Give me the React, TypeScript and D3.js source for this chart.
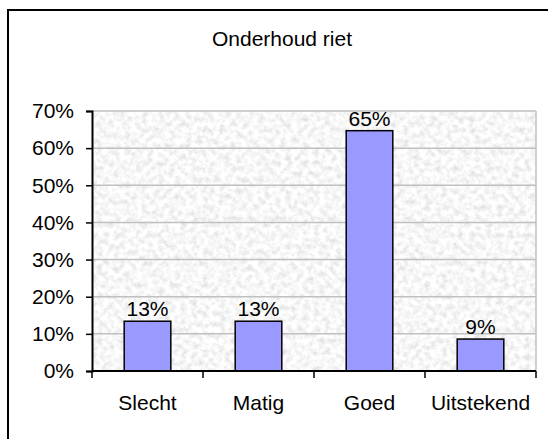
// App.tsx
// bar chart "Onderhoud riet", drawn with d3 into an svg ref

import React, { useEffect, useRef } from 'react'
import * as d3 from 'd3'

const title = 'Onderhoud riet'
const categories = ['Slecht', 'Matig', 'Goed', 'Uitstekend']
const values = [0.134, 0.134, 0.647, 0.086]
const yTicks = [0, 0.1, 0.2, 0.3, 0.4, 0.5, 0.6, 0.7]

const width = 548
const height = 439
const font = '"Liberation Sans", Arial, sans-serif'
const fontSize = 21

function App () {
  const ref = useRef<SVGSVGElement>(null)

  useEffect(() => {
    const root = d3.select(ref.current)
    root.selectAll('*').remove()

    const margin = { top: 111, right: 12, bottom: 68, left: 92 }
    const w = width - margin.left - margin.right
    const h = height - margin.top - margin.bottom

    // granite-ish texture for the plot area
    const defs = root.append('defs')
    const filter = defs.append('filter')
      .attr('id', 'granite')
      .attr('x', 0).attr('y', 0).attr('width', '100%').attr('height', '100%')
    filter.append('feTurbulence')
      .attr('type', 'fractalNoise')
      .attr('baseFrequency', 0.18)
      .attr('numOctaves', 3)
      .attr('seed', 7)
    filter.append('feColorMatrix')
      .attr('type', 'matrix')
      .attr('values', '0.5 0 0 0 0.68  0.5 0 0 0 0.68  0.5 0 0 0 0.68  0 0 0 0 1')

    // outer frame, only top and left edges show in the picture
    root.append('path')
      .attr('d', `M8,${height + 5}V10H${width + 5}`)
      .attr('fill', 'none')
      .attr('stroke', 'black')
      .attr('stroke-width', 2)

    root.append('text')
      .attr('x', 282)
      .attr('y', 46)
      .attr('text-anchor', 'middle')
      .style('font', `${fontSize}px ${font}`)
      .text(title)

    const svg = root.append('g')
      .attr('transform', 'translate(' + margin.left + ',' + margin.top + ')')

    const x = d3.scaleBand()
      .domain(categories)
      .range([0, w])
      .paddingInner(0.58)
      .paddingOuter(0.29)

    const y = d3.scaleLinear()
      .domain([0, 0.7])
      .range([h, 0])

    svg.append('rect')
      .attr('width', w).attr('height', h)
      .attr('fill', '#ececec')
      .attr('filter', 'url(#granite)')

    // gridlines
    svg.append('g')
      .selectAll('line')
      .data(yTicks.slice(1))
      .enter()
      .append('line')
      .attr('x1', 0).attr('x2', w)
      .attr('y1', d => y(d)).attr('y2', d => y(d))
      .attr('stroke', '#c0c0c0')
      .attr('stroke-width', 1.5)

    // right border of plot
    svg.append('line')
      .attr('x1', w).attr('x2', w)
      .attr('y1', 0).attr('y2', h)
      .attr('stroke', '#c0c0c0')
      .attr('stroke-width', 1.5)

    // bars
    svg.append('g')
      .selectAll('rect')
      .data(values)
      .enter()
      .append('rect')
      .attr('x', (d, i) => x(categories[i]))
      .attr('y', d => y(d))
      .attr('width', x.bandwidth())
      .attr('height', d => h - y(d))
      .attr('fill', '#9999ff')
      .attr('stroke', 'black')
      .attr('stroke-width', 1.5)

    // value labels
    const fmt = d3.format('.0%')
    svg.append('g')
      .selectAll('text')
      .data(values)
      .enter()
      .append('text')
      .attr('x', (d, i) => x(categories[i]) + x.bandwidth() / 2)
      .attr('y', d => y(d) - 5)
      .attr('text-anchor', 'middle')
      .style('font', `${fontSize}px ${font}`)
      .text(d => fmt(d))

    // y axis
    const yAxis = svg.append('g')
      .call(d3.axisLeft(y).tickValues(yTicks).tickFormat(d3.format('.0%')).tickSize(6).tickPadding(12))
    yAxis.select('.domain').attr('stroke-width', 2)
    yAxis.selectAll('.tick line').attr('stroke-width', 1.5)
    yAxis.selectAll('text').style('font', `${fontSize}px ${font}`).attr('fill', 'black')

    // x axis, ticks on the category boundaries
    const xAxis = svg.append('g')
      .attr('transform', 'translate(0,' + h + ')')
    xAxis.append('line')
      .attr('x1', 0).attr('x2', w)
      .attr('stroke', 'black')
      .attr('stroke-width', 2)
    const bounds = categories.map(c => x(c) - x.step() * 0.29).concat([w])
    xAxis.selectAll('.tk')
      .data(bounds)
      .enter()
      .append('line')
      .attr('x1', d => d).attr('x2', d => d)
      .attr('y1', 0).attr('y2', 7)
      .attr('stroke', 'black')
      .attr('stroke-width', 1.5)
    xAxis.selectAll('text')
      .data(categories)
      .enter()
      .append('text')
      .attr('x', d => x(d) + x.bandwidth() / 2)
      .attr('y', 39)
      .attr('text-anchor', 'middle')
      .style('font', `${fontSize}px ${font}`)
      .text(d => d)
  }, [])

  return (
    <svg ref={ref} width={width} height={height} style={{ position: 'absolute', left: 0, top: 0 }} />
  )
}

export default App
